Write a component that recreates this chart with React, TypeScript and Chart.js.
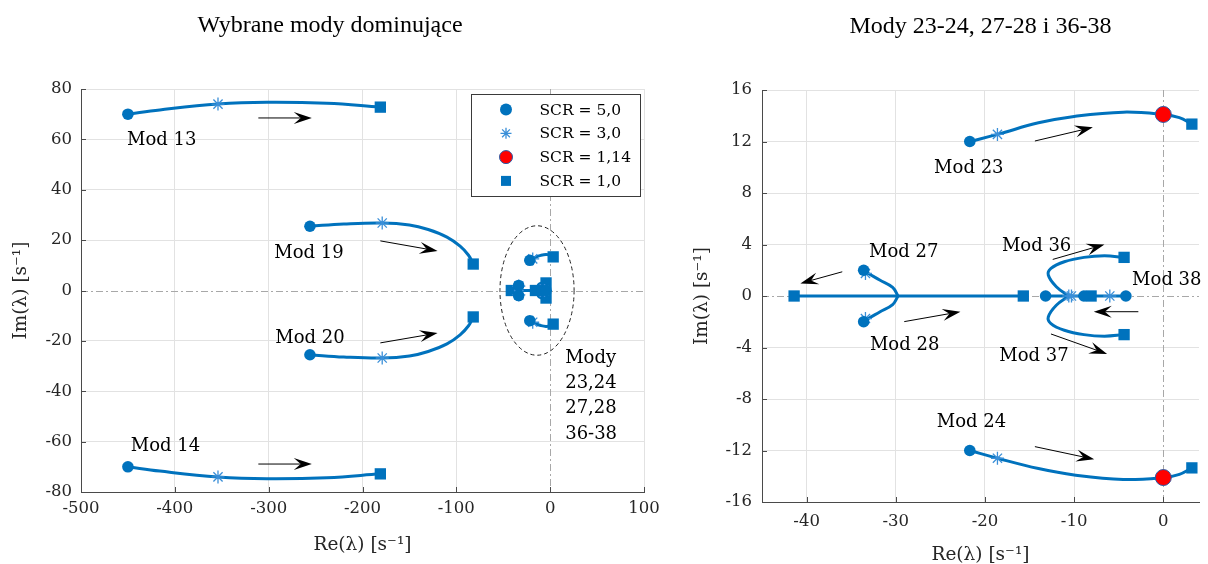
import React, { useEffect, useRef } from "react";
import { Chart, registerables } from "chart.js";

Chart.register(...registerables);

type Pt = [number, number];

// ---------- axes ----------
const leftXTicks = [-500, -400, -300, -200, -100, 0, 100];
const leftYTicks = [-80, -60, -40, -20, 0, 20, 40, 60, 80];
const rightXTicks = [-40, -30, -20, -10, 0];
const rightYTicks = [-16, -12, -8, -4, 0, 4, 8, 12, 16];

const leftTitle = "Wybrane mody dominujące";
const rightTitle = "Mody 23-24, 27-28 i 36-38";
const xTitle = "Re(λ) [s⁻¹]";
const yTitle = "Im(λ) [s⁻¹]";

const legendLabels = ["SCR = 5,0", "SCR = 3,0", "SCR = 1,14", "SCR = 1,0"];

// ---------- trajectories (Re, Im) ----------
const mod13: Pt[] = [[-450, 70], [-416, 71.7], [-354, 74], [-302, 74.7], [-238, 74.3], [-181, 72.8]];
const mod14: Pt[] = [[-450, -70], [-416, -71.7], [-354, -74], [-302, -74.7], [-238, -74.3], [-181, -72.8]];
const mod19: Pt[] = [[-256, 25.5], [-220, 26.4], [-179, 26.8], [-150, 26], [-130, 24.2], [-110, 21.2], [-96, 17.6], [-87, 14], [-82, 10.5]];
const mod20: Pt[] = [[-256, -25.5], [-220, -26.4], [-179, -26.8], [-150, -26], [-130, -24.2], [-110, -21.2], [-96, -17.6], [-87, -14], [-82, -10.5]];
const mod23: Pt[] = [[-21.7, 12], [-18.6, 12.55], [-14, 13.45], [-10, 13.95], [-4.5, 14.28], [0, 14.1], [1.8, 13.85], [3.2, 13.35]];
const mod24: Pt[] = [[-21.7, -12], [-18.6, -12.6], [-14, -13.4], [-10, -13.9], [-4.5, -14.25], [0, -14.1], [1.8, -13.85], [3.2, -13.35]];
const mod27: Pt[] = [[-33.6, 2], [-33.4, 1.88], [-31.8, 1.24], [-30.35, 0.67], [-29.75, 0]];
const mod28: Pt[] = [[-33.6, -2], [-33.4, -1.88], [-31.8, -1.24], [-30.35, -0.67], [-29.75, 0]];
const mod27Axis: Pt[] = [[-29.75, 0], [-41.4, 0]];
const mod28Axis: Pt[] = [[-29.75, 0], [-15.7, 0]];
const mod36: Pt[] = [[-10.6, 0], [-12.0, 0.72], [-12.9, 1.63], [-12.6, 2.14], [-11.1, 2.66], [-8.9, 3.0], [-6.6, 3.12], [-4.4, 3.0]];
const mod37: Pt[] = [[-10.6, 0], [-12.0, -0.72], [-12.9, -1.63], [-12.6, -2.14], [-11.1, -2.66], [-8.9, -3.0], [-6.6, -3.12], [-4.4, -3.0]];
const mod3638Axis: Pt[] = [[-13.2, 0], [-4.2, 0]];

// ---------- markers ----------
const scr50Major: Pt[] = [[-450, 70], [-450, -70], [-256, 25.5], [-256, -25.5]];
const scr30Major: Pt[] = [[-354, 74], [-354, -74], [-179, 26.8], [-179, -26.8]];
const scr10Major: Pt[] = [[-181, 72.8], [-181, -72.8], [-82, 10.5], [-82, -10.5]];
const scr50Minor: Pt[] = [[-21.7, 12], [-21.7, -12], [-33.6, 2], [-33.6, -2], [-13.2, 0], [-8.9, 0], [-4.2, 0]];
const scr30Minor: Pt[] = [[-18.6, 12.55], [-18.6, -12.6], [-33.4, 1.75], [-33.4, -1.75], [-10.6, 0], [-10.3, 0], [-6.0, 0]];
const scr114Minor: Pt[] = [[0, 14.1], [0, -14.1]];
const scr10Minor: Pt[] = [[3.2, 13.35], [3.2, -13.35], [-41.4, 0], [-15.7, 0], [-4.4, 3.0], [-4.4, -3.0], [-8.1, 0]];

// ---------- annotations (data coordinates) ----------
type Label = { text: string; x: number; y: number };
type Arrow = { from: Pt; to: Pt };

const leftLabels: Label[] = [
  { text: "Mod 13", x: -451, y: 59.8 },
  { text: "Mod 14", x: -447, y: -61.7 },
  { text: "Mod 19", x: -294, y: 14.9 },
  { text: "Mod 20", x: -293, y: -18.8 },
  { text: "Mody\n23,24\n27,28\n36-38", x: 16, y: -26.8 },
];
const leftArrows: Arrow[] = [
  { from: [-311, 68.5], to: [-254, 68.5] },
  { from: [-311, -68.9], to: [-254, -68.9] },
  { from: [-181, 19.7], to: [-120, 15.7] },
  { from: [-181, -20.8], to: [-120, -16.9] },
];
const leftEllipse = { cx: -14, cy: 0, rx: 39.5, ry: 25.7 };

const rightLabels: Label[] = [
  { text: "Mod 23", x: -25.7, y: 9.94 },
  { text: "Mod 24", x: -25.4, y: -9.8 },
  { text: "Mod 27", x: -33.0, y: 3.43 },
  { text: "Mod 28", x: -32.9, y: -3.8 },
  { text: "Mod 36", x: -18.1, y: 3.82 },
  { text: "Mod 37", x: -18.4, y: -4.7 },
  { text: "Mod 38", x: -3.5, y: 1.24 },
];
const rightArrows: Arrow[] = [
  { from: [-14.4, 12.04], to: [-7.9, 13.1] },
  { from: [-14.4, -11.7], to: [-7.75, -12.68] },
  { from: [-36.0, 1.88], to: [-40.7, 0.98] },
  { from: [-29.05, -1.99], to: [-22.75, -1.22] },
  { from: [-12.4, 2.84], to: [-6.6, 4.0] },
  { from: [-12.6, -2.95], to: [-6.3, -4.5] },
  { from: [-2.8, -1.22], to: [-7.8, -1.22] },
];

// ---------- styles ----------
const BLUE = "#0072BD";
const STAR = "#3a8fd8";
const RED = "#ff0000";
const SERIF = "'DejaVu Serif', serif";
const TITLE_SERIF = "'Liberation Serif', 'Times New Roman', serif";

const toXY = (pts: Pt[]) => pts.map(([x, y]) => ({ x, y }));

function lineDs(pts: Pt[], tension = 0.4) {
  return {
    data: toXY(pts),
    showLine: true,
    borderColor: BLUE,
    backgroundColor: BLUE,
    borderWidth: 3,
    pointRadius: 0,
    pointHoverRadius: 0,
    tension,
    order: 2,
  };
}

function markerDs(pts: Pt[], kind: "circle" | "star" | "red" | "square") {
  const base: any = { data: toXY(pts), showLine: false, order: 0, pointHoverRadius: 0 };
  if (kind === "circle") return { ...base, pointStyle: "circle", pointRadius: 5.8, backgroundColor: BLUE, borderColor: BLUE, borderWidth: 0 };
  if (kind === "star") return { ...base, pointStyle: "star", pointRadius: 6.5, backgroundColor: STAR, borderColor: STAR, borderWidth: 1.3 };
  if (kind === "red") return { ...base, pointStyle: "circle", pointRadius: 8, backgroundColor: RED, borderColor: "#2a5ca8", borderWidth: 1 };
  return { ...base, pointStyle: "rect", pointRadius: 8, backgroundColor: BLUE, borderColor: BLUE, borderWidth: 0 };
}

function drawArrow(ctx: CanvasRenderingContext2D, x0: number, y0: number, x1: number, y1: number) {
  const dx = x1 - x0, dy = y1 - y0;
  const len = Math.hypot(dx, dy);
  const ux = dx / len, uy = dy / len;
  const nx = -uy, ny = ux;
  const L = 18, W = 12, notch = 0.62;
  const bx = x1 - ux * L, by = y1 - uy * L;
  const mx = x1 - ux * L * notch, my = y1 - uy * L * notch;
  ctx.strokeStyle = "#000";
  ctx.fillStyle = "#000";
  ctx.lineWidth = 1;
  ctx.beginPath();
  ctx.moveTo(x0, y0);
  ctx.lineTo(mx, my);
  ctx.stroke();
  ctx.beginPath();
  ctx.moveTo(x1, y1);
  ctx.lineTo(bx + (nx * W) / 2, by + (ny * W) / 2);
  ctx.lineTo(mx, my);
  ctx.lineTo(bx - (nx * W) / 2, by - (ny * W) / 2);
  ctx.closePath();
  ctx.fill();
}

function drawStar(ctx: CanvasRenderingContext2D, x: number, y: number, r: number) {
  ctx.beginPath();
  for (let i = 0; i < 4; i++) {
    const a = (i * Math.PI) / 4;
    ctx.moveTo(x - r * Math.cos(a), y - r * Math.sin(a));
    ctx.lineTo(x + r * Math.cos(a), y + r * Math.sin(a));
  }
  ctx.stroke();
}

function drawLegend(chart: any) {
  const { ctx, chartArea } = chart;
  const w = 169, h = 102;
  const x0 = Math.round(chartArea.right - 4 - w);
  const y0 = Math.round(chartArea.top + 5);
  ctx.fillStyle = "#fff";
  ctx.fillRect(x0, y0, w, h);
  ctx.strokeStyle = "#3a3a3a";
  ctx.lineWidth = 1;
  ctx.strokeRect(x0 + 0.5, y0 + 0.5, w, h);
  ctx.font = `15.5px ${SERIF}`;
  ctx.textAlign = "left";
  ctx.textBaseline = "middle";
  legendLabels.forEach((lab, i) => {
    const cy = y0 + 15.5 + i * 23.8;
    const mx = x0 + 35;
    if (i === 0) {
      ctx.fillStyle = BLUE;
      ctx.beginPath();
      ctx.arc(mx, cy, 6, 0, Math.PI * 2);
      ctx.fill();
    } else if (i === 1) {
      ctx.strokeStyle = STAR;
      ctx.lineWidth = 1.3;
      drawStar(ctx, mx, cy, 5.5);
    } else if (i === 2) {
      ctx.fillStyle = RED;
      ctx.strokeStyle = "#2a5ca8";
      ctx.lineWidth = 1;
      ctx.beginPath();
      ctx.arc(mx, cy, 6.5, 0, Math.PI * 2);
      ctx.fill();
      ctx.stroke();
    } else {
      ctx.fillStyle = BLUE;
      ctx.fillRect(mx - 5, cy - 5, 10, 10);
    }
    ctx.fillStyle = "#000";
    ctx.fillText(lab, x0 + 68.5, cy + 1);
  });
}

function makePlugin(labels: Label[], arrows: Arrow[], ellipse: any, legend: boolean) {
  return {
    id: "extras",
    beforeDatasetsDraw(chart: any) {
      const { ctx, chartArea, scales } = chart;
      const x = scales.x, y = scales.y;
      ctx.save();
      // zero lines (dash-dot)
      ctx.strokeStyle = "#a8a8a8";
      ctx.lineWidth = 1;
      ctx.setLineDash([7, 3, 2, 3]);
      const x0 = Math.round(x.getPixelForValue(0)) + 0.5;
      const y0 = Math.round(y.getPixelForValue(0)) + 0.5;
      ctx.beginPath();
      ctx.moveTo(x0, chartArea.top);
      ctx.lineTo(x0, chartArea.bottom);
      ctx.moveTo(chartArea.left, y0);
      ctx.lineTo(chartArea.right, y0);
      ctx.stroke();
      ctx.setLineDash([]);
      // inside ticks
      ctx.strokeStyle = "#4a4a4a";
      ctx.beginPath();
      x.ticks.forEach((t: any) => {
        const px = Math.round(x.getPixelForValue(t.value)) + 0.5;
        ctx.moveTo(px, chartArea.bottom);
        ctx.lineTo(px, chartArea.bottom - 5);
      });
      y.ticks.forEach((t: any) => {
        const py = Math.round(y.getPixelForValue(t.value)) + 0.5;
        ctx.moveTo(chartArea.left, py);
        ctx.lineTo(chartArea.left + 5, py);
      });
      ctx.stroke();
      ctx.restore();
    },
    afterDatasetsDraw(chart: any) {
      const { ctx, scales } = chart;
      const x = scales.x, y = scales.y;
      ctx.save();
      if (ellipse) {
        const cx = x.getPixelForValue(ellipse.cx);
        const cy = y.getPixelForValue(ellipse.cy);
        const rx = Math.abs(x.getPixelForValue(ellipse.cx + ellipse.rx) - cx);
        const ry = Math.abs(y.getPixelForValue(ellipse.cy + ellipse.ry) - cy);
        ctx.strokeStyle = "#222";
        ctx.lineWidth = 1;
        ctx.setLineDash([4, 3]);
        ctx.beginPath();
        ctx.ellipse(cx, cy, rx, ry, 0, 0, Math.PI * 2);
        ctx.stroke();
        ctx.setLineDash([]);
      }
      arrows.forEach((a) => {
        drawArrow(
          ctx,
          x.getPixelForValue(a.from[0]),
          y.getPixelForValue(a.from[1]),
          x.getPixelForValue(a.to[0]),
          y.getPixelForValue(a.to[1])
        );
      });
      ctx.fillStyle = "#000";
      ctx.font = `18px ${SERIF}`;
      ctx.textAlign = "left";
      ctx.textBaseline = "middle";
      labels.forEach((l) => {
        const px = x.getPixelForValue(l.x);
        const py = y.getPixelForValue(l.y);
        l.text.split("\n").forEach((line, i) => ctx.fillText(line, px, py + i * 25.3));
      });
      if (legend) drawLegend(chart);
      ctx.restore();
    },
  };
}

function scaleOpts(
  xMin: number, xMax: number, xTicks: number[],
  yMin: number, yMax: number, yTicks: number[],
  yWidth: number, xHeight: number, rightGap: number,
  xPad: number, yPad: number, xTitlePadBottom: number, yTitlePadTop: number
) {
  const gridColor = (c: any) => (c.tick && c.tick.value === 0 ? "rgba(0,0,0,0)" : "#e2e2e2");
  const tickFont = { family: SERIF, size: 16.5 };
  const titleFont = { family: SERIF, size: 18.5 };
  return {
    x: {
      type: "linear",
      min: xMin,
      max: xMax,
      afterBuildTicks: (s: any) => { s.ticks = xTicks.map((v) => ({ value: v })); },
      afterFit: (s: any) => { s.height = xHeight; s.paddingLeft = 0; s.paddingRight = rightGap; },
      grid: { color: gridColor, drawTicks: false, lineWidth: 1 },
      border: { display: true, color: "#4a4a4a", width: 1 },
      ticks: { font: tickFont, color: "#262626", padding: xPad, maxRotation: 0, autoSkip: false, callback: (v: any) => String(v) },
      title: { display: true, text: xTitle, font: titleFont, color: "#262626", padding: { top: 0, bottom: xTitlePadBottom } },
    },
    y: {
      type: "linear",
      min: yMin,
      max: yMax,
      afterBuildTicks: (s: any) => { s.ticks = yTicks.map((v) => ({ value: v })); },
      afterFit: (s: any) => { s.width = yWidth; s.paddingTop = 0; s.paddingBottom = 0; },
      grid: { color: gridColor, drawTicks: false, lineWidth: 1 },
      border: { display: true, color: "#4a4a4a", width: 1 },
      ticks: { font: tickFont, color: "#262626", padding: yPad, autoSkip: false, callback: (v: any) => String(v) },
      title: { display: true, text: yTitle, font: titleFont, color: "#262626", padding: { top: yTitlePadTop, bottom: 0 } },
    },
  };
}

export default function App() {
  const leftRef = useRef<HTMLCanvasElement>(null);
  const rightRef = useRef<HTMLCanvasElement>(null);

  useEffect(() => {
    const minorLines = () => [
      lineDs(mod23), lineDs(mod24), lineDs(mod27), lineDs(mod28),
      lineDs(mod27Axis, 0), lineDs(mod28Axis, 0),
      lineDs(mod36), lineDs(mod37), lineDs(mod3638Axis, 0),
    ];

    const left = new Chart(leftRef.current!, {
      type: "scatter",
      data: {
        datasets: [
          markerDs([...scr50Major, ...scr50Minor], "circle"),
          markerDs([...scr30Major, ...scr30Minor], "star"),
          markerDs([...scr10Major, ...scr10Minor], "square"),
          lineDs(mod13), lineDs(mod14), lineDs(mod19), lineDs(mod20),
          ...minorLines(),
        ] as any,
      },
      options: {
        responsive: false,
        animation: false,
        events: [],
        layout: { padding: { left: 0, right: 0, top: 0, bottom: 0 } },
        plugins: {
          legend: { display: false },
          tooltip: { enabled: false },
          title: {
            display: true,
            text: leftTitle,
            color: "#000",
            font: { family: TITLE_SERIF, size: 24, weight: "normal" },
            padding: { top: 11, bottom: 49.2 },
          },
        },
        scales: scaleOpts(-500, 100, leftXTicks, -80, 80, leftYTicks, 81, 72, 16, 7, 9, 7.9, 9.9) as any,
      },
      plugins: [makePlugin(leftLabels, leftArrows, leftEllipse, true)],
    });

    const right = new Chart(rightRef.current!, {
      type: "scatter",
      data: {
        datasets: [
          markerDs(scr114Minor, "red"),
          markerDs(scr50Minor, "circle"),
          markerDs(scr30Minor, "star"),
          markerDs(scr10Minor, "square"),
          ...minorLines(),
        ] as any,
      },
      options: {
        responsive: false,
        animation: false,
        events: [],
        layout: { padding: { left: 0, right: 6, top: 0, bottom: 0 } },
        plugins: {
          legend: { display: false },
          tooltip: { enabled: false },
          title: {
            display: true,
            fullSize: false,
            text: rightTitle,
            color: "#000",
            font: { family: TITLE_SERIF, size: 24, weight: "normal" },
            padding: { top: 12, bottom: 49.2 },
          },
        },
        scales: scaleOpts(-45, 4, rightXTicks, -16, 16, rightYTicks, 82, 62, 0, 10, 10, -2, 10.6) as any,
      },
      plugins: [makePlugin(rightLabels, rightArrows, null, false)],
    });

    return () => {
      left.destroy();
      right.destroy();
    };
  }, []);

  return (
    <div style={{ position: "absolute", left: 0, top: 0, width: 1208, height: 564, overflow: "hidden", background: "#fff" }}>
      <canvas ref={leftRef} width={660} height={564} style={{ position: "absolute", left: 0, top: 0, display: "block" }} />
      <canvas ref={rightRef} width={528} height={564} style={{ position: "absolute", left: 680, top: 0, display: "block" }} />
    </div>
  );
}
